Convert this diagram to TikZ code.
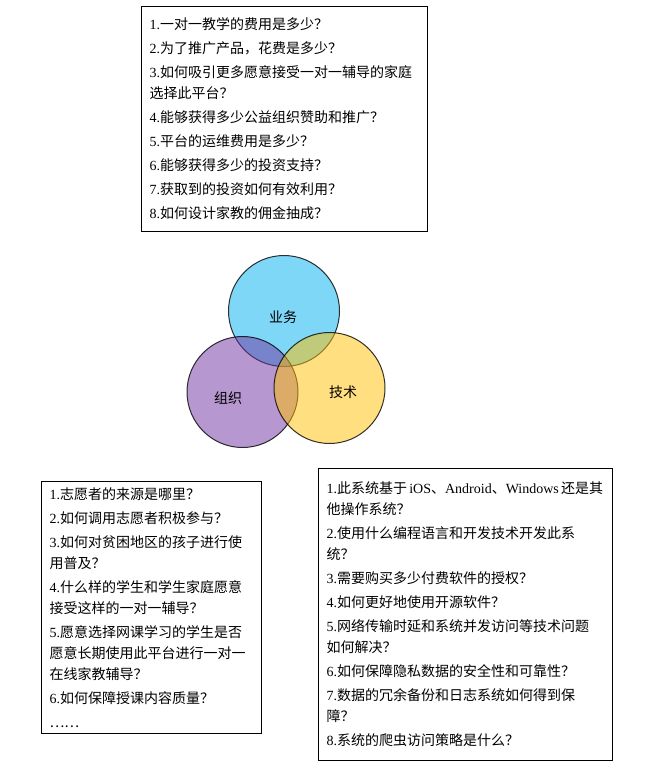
\documentclass[tikz,border=0pt]{standalone}
\usepackage{fontspec}
\setmainfont{Liberation Serif}
\newfontfamily\cjk{Noto Sans CJK SC}
\newcommand\latn[1]{{\rmfamily #1}}
\definecolor{bizblue}{RGB}{0,176,240}
\definecolor{orgpurple}{RGB}{112,48,160}
\definecolor{techyellow}{RGB}{255,192,0}

\begin{document}
\begin{tikzpicture}[x=1pt,y=-1pt]
\tikzstyle{q}=[draw, line width=1pt, anchor=north west, align=left, inner xsep=8pt, inner ysep=0pt, font=\cjk\fontsize{14}{21}\selectfont]
\tikzstyle{v}=[circle, inner sep=0pt, minimum size=111pt, draw, line width=1pt, draw opacity=0.8, fill opacity=0.5]
\tikzstyle{t}=[font=\cjk\fontsize{14}{17}\selectfont]
\useasboundingbox (0,0) rectangle (645,770);

% top box
\node[q, text width=270pt, minimum height=225pt] (bizq) at (141,6) {%
\latn{1.}一对一教学的费用是多少？\\[3pt]
\latn{2.}为了推广产品，花费是多少？\\[3pt]
\latn{3.}如何吸引更多愿意接受一对一辅导的家庭\\
选择此平台？\\[3pt]
\latn{4.}能够获得多少公益组织赞助和推广？\\[3pt]
\latn{5.}平台的运维费用是多少？\\[3pt]
\latn{6.}能够获得多少的投资支持？\\[3pt]
\latn{7.}获取到的投资如何有效利用？\\[3pt]
\latn{8.}如何设计家教的佣金抽成？};

% venn
\node[v, fill=bizblue] (biz) at (284,311) {};
\node[v, fill=orgpurple] (org) at (242.5,392) {};
\node[v, fill=techyellow] (tech) at (329.5,388) {};
\node[t] (bizl) at (283,317) {业务};
\node[t] (orgl) at (228,398) {组织};
\node[t] (techl) at (343,392) {技术};

% bottom left box
\node[q, text width=204pt, minimum height=252pt] (orgq) at (41,481) {%
\latn{1.}志愿者的来源是哪里？\\[3pt]
\latn{2.}如何调用志愿者积极参与？\\[3pt]
\latn{3.}如何对贫困地区的孩子进行使\\
用普及？\\[3pt]
\latn{4.}什么样的学生和学生家庭愿意\\
接受这样的一对一辅导？\\[3pt]
\latn{5.}愿意选择网课学习的学生是否\\
愿意长期使用此平台进行一对一\\
在线家教辅导？\\[3pt]
\latn{6.}如何保障授课内容质量？\\[3pt]
……};

% bottom right box
\node[q, text width=278pt, minimum height=292pt] (techq) at (318,468) {%
\mbox{\latn{1.}此系统基于\,\latn{iOS}、\latn{Android}、\latn{Windows}\,还是其}\\
他操作系统？\\[3pt]
\latn{2.}使用什么编程语言和开发技术开发此系\\
统？\\[3pt]
\latn{3.}需要购买多少付费软件的授权？\\[3pt]
\latn{4.}如何更好地使用开源软件？\\[3pt]
\latn{5.}网络传输时延和系统并发访问等技术问题\\
如何解决？\\[3pt]
\latn{6.}如何保障隐私数据的安全性和可靠性？\\[3pt]
\latn{7.}数据的冗余备份和日志系统如何得到保\\
障？\\[3pt]
\latn{8.}系统的爬虫访问策略是什么？};
\end{tikzpicture}
\end{document}
